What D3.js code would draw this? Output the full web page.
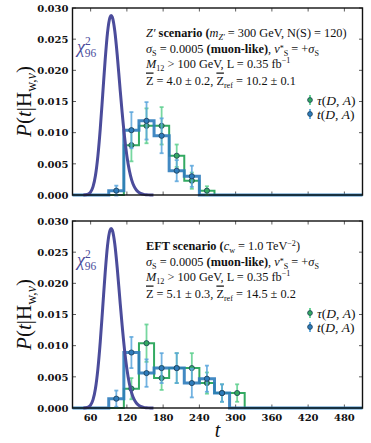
<!doctype html>
<html lang="en">
<head>
<meta charset="utf-8">
<style>
  body { margin: 0; background: #fff; }
  svg text { font-family: "Liberation Serif", "DejaVu Serif", serif; fill: #111; }
  svg .tick-label { font-family: "DejaVu Serif", serif; font-weight: bold; font-size: 10px; }
</style>
</head>
<body>
<div id="chart"></div>
<script src="https://d3js.org/d3.v7.min.js"></script>
<script>
// bins (lower edges, width 25)
const binLo = [90, 115, 140, 165, 190, 215, 240, 265, 290];
const binW = 25;
const xTicks = [60, 120, 180, 240, 300, 360, 420, 480];
const yTicks = [0, 0.005, 0.010, 0.015, 0.020, 0.025, 0.030];

// Z' scenario
const zpTau    = [0, 0.0080, 0.0111, 0.0111, 0.0063, 0.0023, 0.0007, 0, 0];
const zpTauErr = [0, 0.0026, 0.0028, 0.0030, 0.0018, 0.0013, 0.0007, 0, 0];
const zpT      = [0.0007, 0.0104, 0.0119, 0.0095, 0.0039, 0.0030, 0, 0, 0];
const zpTErr   = [0.0008, 0.0029, 0.0030, 0.0028, 0.0017, 0.0017, 0, 0, 0];

// EFT scenario
const eftTau    = [0, 0.0031, 0.0104, 0.0048, 0.0064, 0.0064, 0.0040, 0.0024, 0.0024];
const eftTauErr = [0, 0.0017, 0.0030, 0.0019, 0.0024, 0.0024, 0.0017, 0.0014, 0.0014];
const eftT      = [0.0015, 0.0089, 0.0056, 0.0064, 0.0064, 0.0040, 0.0047, 0.0024, 0];
const eftTErr   = [0.0013, 0.0025, 0.0022, 0.0024, 0.0024, 0.0023, 0.0021, 0.0014, 0];

// chi^2 (96 dof) curve
const chiT   = [48, 52, 56, 60, 64, 68, 72, 76, 80, 84, 88, 92, 94, 96, 100, 104, 108, 112, 116, 120, 124, 128, 132, 136, 140, 144, 148, 152, 156, 160, 164];
const chiPdf = [0.00001, 0.00003, 0.00014, 0.00048, 0.00134, 0.00313, 0.00624, 0.0107, 0.0161, 0.0216, 0.0261, 0.0285, 0.0288, 0.0285, 0.0263, 0.0225, 0.0179, 0.0134, 0.00944, 0.00628, 0.00397, 0.00239, 0.00137, 0.00076, 0.0004, 0.0002, 0.0001, 0.00005, 0.00002, 0.00001, 0];

var width = 371, height = 443;
var left = 72.5, right = 362.5;
var panelTops = [8, 221], panelH = 187;

var blue = "#2e7cbc", blueErr = "#5aa6dc",
    green = "#33aa62", greenErr = "#5fd08f",
    chiColor = "#4b4c9b";

var svg = d3.select("#chart").append("svg")
    .attr("width", width)
    .attr("height", height);

var x = d3.scaleLinear().domain([30, 510]).range([left, right]);

// text with tspans: i italic, b bold, _ sub, ^ sup, s small raise, o overline
function rich(g, px, py, size, segs) {
  var t = g.append("text").attr("x", px).attr("y", py).attr("font-size", size);
  var shift = 0;
  segs.forEach(function(s) {
    var txt = s[0], f = s[1] || "", dx = s[2] || 0;
    var target = f.indexOf("_") >= 0 ? size * 0.25
      : f.indexOf("^") >= 0 ? -size * 0.34
      : f.indexOf("s") >= 0 ? -size * 0.1 : 0;
    var ts = t.append("tspan").text(txt).attr("dy", target - shift);
    if (dx) ts.attr("dx", dx);
    shift = target;
    if (f.indexOf("i") >= 0) ts.attr("font-style", "italic");
    if (f.indexOf("b") >= 0) ts.attr("font-weight", "bold");
    if (/[_^s]/.test(f)) ts.attr("font-size", size * 0.66);
    if (f.indexOf("o") >= 0) ts.attr("text-decoration", "overline");
  });
  return t;
}

function panel(top, tau, tauErr, tt, tErr, lines, showX) {
  var y = d3.scaleLinear().domain([0, 0.030]).range([top + panelH, top]);
  var g = svg.append("g");

  // ticks (inward, all sides)
  var tk = g.append("g").attr("stroke", "#333").attr("stroke-width", 0.8);
  xTicks.forEach(function(v) {
    tk.append("line").attr("x1", x(v)).attr("x2", x(v)).attr("y1", top + panelH).attr("y2", top + panelH - 3.5);
    tk.append("line").attr("x1", x(v)).attr("x2", x(v)).attr("y1", top).attr("y2", top + 3.5);
  });
  yTicks.forEach(function(v) {
    tk.append("line").attr("x1", left).attr("x2", left + 3.5).attr("y1", y(v)).attr("y2", y(v));
    tk.append("line").attr("x1", right).attr("x2", right - 3.5).attr("y1", y(v)).attr("y2", y(v));
    g.append("text").attr("class", "tick-label")
      .attr("x", left - 4).attr("y", y(v) + 3.8)
      .attr("text-anchor", "end")
      .text(d3.format(".3f")(v));
  });
  if (showX) {
    xTicks.forEach(function(v) {
      g.append("text").attr("class", "tick-label")
        .attr("x", x(v)).attr("y", top + panelH + 13)
        .attr("text-anchor", "middle")
        .text(v);
    });
  }

  // histograms
  function steps(vals) {
    var pts = [{t: 30, v: 0}];
    vals.forEach(function(v, i) { pts.push({t: binLo[i], v: v}); });
    pts.push({t: binLo[binLo.length - 1] + binW, v: 0});
    pts.push({t: 510, v: 0});
    return pts;
  }
  var line = d3.line().x(d => x(d.t)).y(d => y(d.v)).curve(d3.curveStepAfter);

  g.append("path").datum(steps(tau))
    .attr("d", line).attr("fill", "none")
    .attr("stroke", green).attr("stroke-width", 2);
  g.append("path").datum(steps(tt))
    .attr("d", line).attr("fill", "none")
    .attr("stroke", blue).attr("stroke-width", 3).attr("stroke-opacity", 0.9);

  function errs(vals, ev, col, fillCol) {
    var idx = vals.map((v, i) => i).filter(i => vals[i] > 0);
    var eg = g.append("g").attr("stroke", col).attr("stroke-width", 1.8).attr("stroke-opacity", 0.85);
    idx.forEach(function(i) {
      var cx = x(binLo[i] + binW / 2);
      eg.append("line").attr("x1", cx).attr("x2", cx).attr("y1", y(vals[i] - ev[i])).attr("y2", y(vals[i] + ev[i]));
      eg.append("line").attr("x1", cx - 2).attr("x2", cx + 2).attr("y1", y(vals[i] - ev[i])).attr("y2", y(vals[i] - ev[i]));
      eg.append("line").attr("x1", cx - 2).attr("x2", cx + 2).attr("y1", y(vals[i] + ev[i])).attr("y2", y(vals[i] + ev[i]));
    });
    g.append("g").selectAll("circle").data(idx).enter().append("circle")
      .attr("cx", i => x(binLo[i] + binW / 2))
      .attr("cy", i => y(vals[i]))
      .attr("r", 2.6)
      .attr("fill", fillCol)
      .attr("stroke", "#1d3d55").attr("stroke-width", 0.8);
  }
  errs(tau, tauErr, greenErr, green);
  errs(tt, tErr, blueErr, blue);

  // chi^2
  g.append("path").datum(chiT.map((t, i) => ({t: t, v: chiPdf[i]})))
    .attr("d", d3.line().x(d => x(d.t)).y(d => y(d.v)).curve(d3.curveMonotoneX))
    .attr("fill", "none").attr("stroke", chiColor).attr("stroke-width", 3);

  var chi = g.append("text").attr("x", 77).attr("y", top + 45).attr("font-size", 18).style("fill", chiColor);
  chi.append("tspan").attr("font-style", "italic").text("χ");
  chi.append("tspan").attr("font-size", 11.5).attr("dy", -8).text("2");
  chi.append("tspan").attr("font-size", 11.5).attr("dy", 12).attr("dx", -5.8).text("96");

  // annotation
  lines.forEach(function(l, i) {
    rich(g, 146, top + 29 + i * 15 + (i >= 1 ? 0.5 : 0) + (i == 3 ? 2 : 0), 12.3, l);
  });

  // legend
  [[tau, greenErr, green, "τ"], [tt, blueErr, blue, "t"]].forEach(function(d, i) {
    var ly = top + 92 + i * 14;
    var lx = 310;
    g.append("line").attr("x1", lx).attr("x2", lx).attr("y1", ly - 5).attr("y2", ly + 5)
      .attr("stroke", d[1]).attr("stroke-width", 1.8);
    g.append("circle").attr("cx", lx).attr("cy", ly).attr("r", 2.4)
      .attr("fill", d[2]).attr("stroke", "#1d3d55").attr("stroke-width", 0.8);
    rich(g, lx + 7, ly + 4.5, 13.5, [[d[3], "i"], ["("], ["D", "i"], [", "], ["A", "i"], [")"]]);
  });

  // frame
  g.append("rect").attr("x", left).attr("y", top).attr("width", right - left).attr("height", panelH)
    .attr("fill", "none").attr("stroke", "#111").attr("stroke-width", 1.4);

  // y label
  var yl = g.append("g").attr("transform", "translate(31," + (top + panelH / 2) + ") rotate(-90)");
  rich(yl, 0, 0, 21, [["P", "i"], ["("], ["t", "i"], ["|H"], ["w,", "_"], ["ν", "_i"], [")"]])
    .attr("text-anchor", "middle");
}

panel(panelTops[0], zpTau, zpTauErr, zpT, zpTErr, [
  [["Z′", "i"], [" scenario (", "b"], ["m", "i"], ["Z′", "_i"], [" = 300 GeV, N(S) = 120)"]],
  [["σ", "i"], ["S", "_"], [" = 0.0005 "], ["(muon-like)", "b"], [", "], ["ν", "i"], ["*", "s"], ["S", "_"], [" = +"], ["σ", "i"], ["S", "_"]],
  [["M", "i"], ["12", "_"], [" > 100 GeV, L = 0.35 fb"], ["−1", "^"]],
  [["Z", "o"], [" = 4.0 ± 0.2, "], ["Z", "o"], ["ref", "_"], [" = 10.2 ± 0.1"]]
], false);

panel(panelTops[1], eftTau, eftTauErr, eftT, eftTErr, [
  [["EFT scenario (", "b"], ["c", "i"], ["w", "_"], [" = 1.0 TeV"], ["−2", "^"], [")"]],
  [["σ", "i"], ["S", "_"], [" = 0.0005 "], ["(muon-like)", "b"], [", "], ["ν", "i"], ["*", "s"], ["S", "_"], [" = +"], ["σ", "i"], ["S", "_"]],
  [["M", "i"], ["12", "_"], [" > 100 GeV, L = 0.35 fb"], ["−1", "^"]],
  [["Z", "o"], [" = 5.1 ± 0.3, "], ["Z", "o"], ["ref", "_"], [" = 14.5 ± 0.2"]]
], true);

svg.append("text").attr("x", (left + right) / 2).attr("y", 437)
  .attr("text-anchor", "middle").attr("font-size", 20).attr("font-style", "italic").text("t");
</script>
</body>
</html>
